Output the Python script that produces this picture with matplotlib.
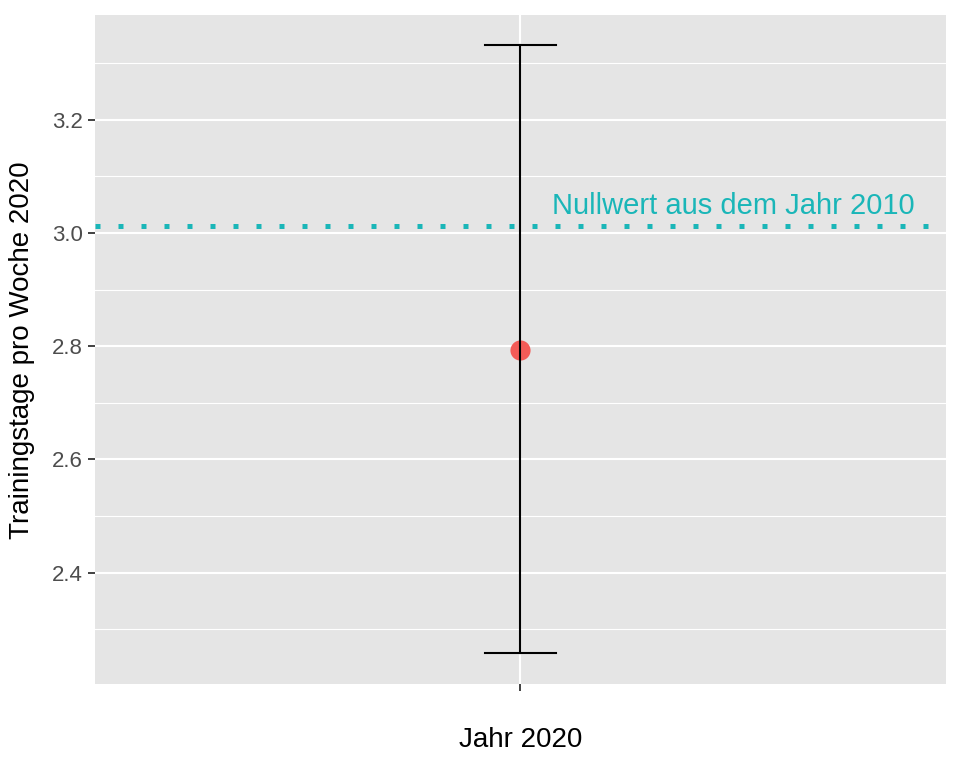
import matplotlib.pyplot as plt
from matplotlib.ticker import MultipleLocator

plt.rcParams['font.family'] = ['Liberation Sans', 'DejaVu Sans']

# Daten
categories = ["Jahr 2020"]
means = [2.793]
ci_lower = [2.258]
ci_upper = [3.331]
null_value = 3.012
null_label = "Nullwert aus dem Jahr 2010"

fig = plt.figure(figsize=(9.6, 7.68), dpi=100)
ax = fig.add_axes([0.099, 0.109, 0.886, 0.871])
ax.set_facecolor('#E5E5E5')
for s in ax.spines.values():
    s.set_visible(False)

x = list(range(1, len(categories) + 1))

# Gitter
ax.set_xlim(0.4, len(categories) + 0.6)
ax.set_ylim(2.203, 3.384)
ax.yaxis.set_major_locator(MultipleLocator(0.2))
ax.yaxis.set_minor_locator(MultipleLocator(0.1))
ax.set_xticks(x)
ax.grid(which='major', color='white', linewidth=1.5)
ax.grid(which='minor', axis='y', color='white', linewidth=0.8)
ax.set_axisbelow(True)
ax.tick_params(which='minor', length=0)
ax.tick_params(which='major', length=5, width=1.3, color='#333333',
               labelsize=16, labelcolor='#4D4D4D', pad=4)
ax.set_xticklabels([])
ax.yaxis.set_major_formatter(plt.FuncFormatter(lambda v, p: f"{v:.1f}"))

# Nullwert-Linie
ax.axhline(null_value, color='#1AB6B8', linewidth=3.6, dashes=(1, 3.6),
           dash_capstyle='butt', zorder=2)
ax.text(1.30, 3.047, null_label, color='#1AB6B8', fontsize=21,
        ha='center', va='center')

# Fehlerbalken und Punkt
for xi, m, lo, hi in zip(x, means, ci_lower, ci_upper):
    ax.plot(xi, m, 'o', color='#F35B57', markersize=14.5, markeredgewidth=0, zorder=3)
    ax.plot([xi, xi], [lo, hi], color='black', linewidth=1.5, zorder=4)
    ax.plot([xi - 0.05, xi + 0.05], [lo, lo], color='black', linewidth=1.5, zorder=4)
    ax.plot([xi - 0.05, xi + 0.05], [hi, hi], color='black', linewidth=1.5, zorder=4)

ax.set_xlabel(categories[0], fontsize=20, labelpad=22)
ax.set_ylabel("Trainingstage pro Woche 2020", fontsize=20, labelpad=12)

fig.savefig("out.png", dpi=100)
